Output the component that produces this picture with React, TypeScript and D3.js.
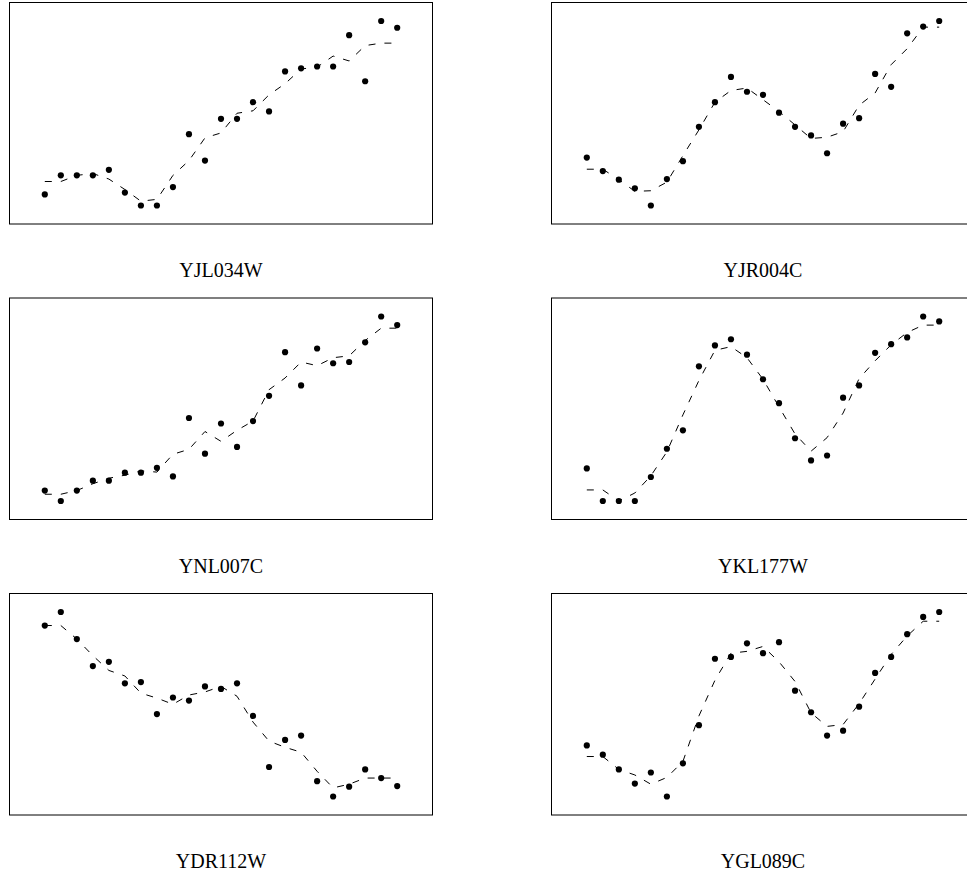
import React from "react";
import * as d3 from "d3";

// Time points (23 samples per gene)
const timePoints = [1, 2, 3, 4, 5, 6, 7, 8, 9, 10, 11, 12, 13, 14, 15, 16, 17, 18, 19, 20, 21, 22, 23];

const genes = ["YJL034W", "YJR004C", "YNL007C", "YKL177W", "YDR112W", "YGL089C"];

// Observed (standardised) expression values
const yjl034w = [-1.32, -1.01, -1.01, -1.01, -0.92, -1.29, -1.5, -1.5, -1.2, -0.34, -0.77, -0.09, -0.09, 0.18, 0.03, 0.68, 0.73, 0.76, 0.76, 1.27, 0.52, 1.5, 1.39];
const yjr004c = [-0.72, -0.94, -1.08, -1.22, -1.5, -1.07, -0.78, -0.22, 0.18, 0.59, 0.35, 0.3, 0.01, -0.22, -0.36, -0.65, -0.17, -0.08, 0.64, 0.43, 1.3, 1.41, 1.5];
const ynl007c = [-1.33, -1.5, -1.33, -1.17, -1.17, -1.04, -1.04, -0.96, -1.1, -0.15, -0.73, -0.24, -0.62, -0.2, 0.21, 0.92, 0.38, 0.98, 0.74, 0.76, 1.08, 1.5, 1.36];
const ykl177w = [-0.97, -1.5, -1.5, -1.5, -1.11, -0.65, -0.35, 0.69, 1.03, 1.13, 0.88, 0.48, 0.09, -0.48, -0.84, -0.76, 0.18, 0.38, 0.91, 1.05, 1.16, 1.5, 1.42];
const ydr112w = [1.28, 1.5, 1.06, 0.62, 0.69, 0.34, 0.36, -0.16, 0.11, 0.06, 0.29, 0.25, 0.34, -0.19, -1.02, -0.58, -0.51, -1.25, -1.5, -1.34, -1.06, -1.2, -1.33];
const ygl089c = [-0.67, -0.82, -1.06, -1.29, -1.11, -1.5, -0.96, -0.34, 0.74, 0.77, 0.99, 0.83, 1.01, 0.22, -0.13, -0.51, -0.43, -0.04, 0.51, 0.77, 1.14, 1.42, 1.5];

// Smoothed trend (dashed line) values
const yjl034wFit = [-1.11, -1.11, -1.01, -0.98, -1.07, -1.24, -1.43, -1.4, -1.01, -0.77, -0.4, -0.32, 0.0, 0.04, 0.3, 0.48, 0.72, 0.75, 0.93, 0.85, 1.1, 1.14, 1.14];
const yjr004cFit = [-0.91, -0.91, -1.08, -1.27, -1.26, -1.12, -0.69, -0.27, 0.18, 0.37, 0.41, 0.22, 0.03, -0.19, -0.41, -0.39, -0.3, 0.13, 0.33, 0.79, 1.05, 1.4, 1.4];
const ynl007cFit = [-1.39, -1.39, -1.33, -1.22, -1.13, -1.08, -1.01, -1.03, -0.74, -0.66, -0.37, -0.53, -0.35, -0.2, 0.31, 0.5, 0.76, 0.7, 0.83, 0.86, 1.11, 1.31, 1.31];
const ykl177wFit = [-1.32, -1.32, -1.5, -1.37, -1.09, -0.7, -0.1, 0.46, 0.95, 1.01, 0.83, 0.48, 0.03, -0.41, -0.69, -0.47, -0.07, 0.49, 0.78, 1.04, 1.24, 1.36, 1.36];
const ydr112wFit = [1.28, 1.28, 1.06, 0.79, 0.55, 0.46, 0.18, 0.1, 0.0, 0.15, 0.2, 0.29, 0.13, -0.29, -0.6, -0.7, -0.78, -1.09, -1.36, -1.3, -1.2, -1.2, -1.2];
const ygl089cFit = [-0.85, -0.85, -1.06, -1.15, -1.3, -1.19, -0.93, -0.19, 0.39, 0.83, 0.86, 0.94, 0.69, 0.37, -0.14, -0.36, -0.33, 0.01, 0.41, 0.81, 1.11, 1.35, 1.35];

const observed = [yjl034w, yjr004c, ynl007c, ykl177w, ydr112w, ygl089c];
const fitted = [yjl034wFit, yjr004cFit, ynl007cFit, ykl177wFit, ydr112wFit, ygl089cFit];

const W = 967;
const H = 876;
const colLefts = [9.5, 551.5];
const rowTops = [2.5, 298, 593.5];
const boxW = 423;
const boxH = 221.5;
const xInset = 35.3;
const yInset = 18.5;

function Panel({ idx }: { idx: number }) {
  const col = idx % 2;
  const row = Math.floor(idx / 2);
  const left = colLefts[col];
  const top = rowTops[row];
  const obs = observed[idx];
  const fit = fitted[idx];

  const x = d3
    .scaleLinear()
    .domain(d3.extent(timePoints) as [number, number])
    .range([left + xInset, left + boxW - xInset]);
  const ext = d3.extent(obs) as [number, number];
  const y = d3
    .scaleLinear()
    .domain(ext)
    .range([top + boxH - yInset, top + yInset]);

  const line = d3
    .line<number>()
    .x((_, i) => x(timePoints[i]))
    .y((d) => y(d));

  return (
    <g>
      <rect x={left} y={top} width={boxW} height={boxH} fill="none" stroke="#000" strokeWidth={1} />
      <path d={line(fit) || ""} fill="none" stroke="#000" strokeWidth={1} strokeDasharray="7,9" />
      {obs.map((v, i) => (
        <circle key={i} cx={x(timePoints[i])} cy={y(v)} r={3.1} fill="#000" />
      ))}
      <text
        x={left + boxW / 2}
        y={top + boxH + 53}
        textAnchor="middle"
        fontFamily="'Liberation Serif', 'Times New Roman', serif"
        fontSize={20}
        fill="#000"
      >
        {genes[idx]}
      </text>
    </g>
  );
}

export default function App() {
  return (
    <svg
      width={W}
      height={H}
      viewBox={`0 0 ${W} ${H}`}
      style={{ position: "absolute", left: 0, top: 0, background: "#fff" }}
    >
      <rect x={0} y={0} width={W} height={H} fill="#fff" />
      {genes.map((_, i) => (
        <Panel key={i} idx={i} />
      ))}
    </svg>
  );
}
